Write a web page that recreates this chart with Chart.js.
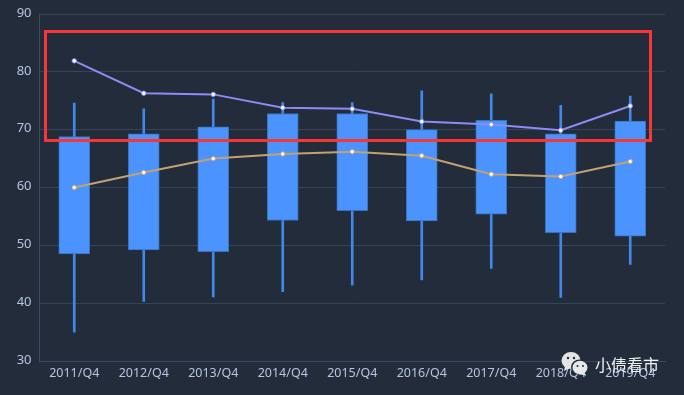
<!DOCTYPE html>
<html>
<head>
<meta charset="utf-8">
<style>
html,body{margin:0;padding:0;background:#222c3a;overflow:hidden}
#wrap{position:relative;width:684px;height:395px;background:#222c3a}
#redbox{position:absolute;left:44px;top:30px;width:602px;height:106px;border:3px solid #f93636;pointer-events:none}
#mark{position:absolute;left:561px;top:351px;width:32px;height:26px}
#wm{position:absolute;left:595px;top:353px;color:#f2f2f2;font:16px "Noto Sans CJK SC";line-height:22px;white-space:nowrap}
</style>
<script src="https://cdn.jsdelivr.net/npm/chart.js@4"></script>
</head>
<body>
<div id="wrap">
<canvas id="c" width="684" height="395" style="display:block"></canvas>
<div id="redbox"></div>
<svg id="mark" viewBox="0 0 32 26">
<ellipse cx="10" cy="9.5" rx="9.5" ry="8.5" fill="#e4e4e4"/>
<path d="M4 15 L3 20 L9 17Z" fill="#e4e4e4"/>
<ellipse cx="18.500" cy="16" rx="8.500" ry="7.500" fill="#222c3a"/>
<ellipse cx="19" cy="16.500" rx="7.500" ry="6.800" fill="#e8e8e8"/>
<path d="M23 21 L25 25 L20 22.500Z" fill="#e8e8e8"/>
<circle cx="7" cy="7" r="1.200" fill="#222c3a"/><circle cx="13" cy="7" r="1.200" fill="#222c3a"/>
<circle cx="16.500" cy="15" r="1" fill="#222c3a"/><circle cx="22" cy="15" r="1" fill="#222c3a"/>
</svg>
<div id="wm">小债看市</div>
</div>
<script>
const categories = ["2011/Q4","2012/Q4","2013/Q4","2014/Q4","2015/Q4","2016/Q4","2017/Q4","2018/Q4","2019/Q4"];
const whiskerLow = [35, 40.3, 41.1, 42, 43.1, 44, 46, 41, 46.7];
const whiskerHigh = [74.6, 73.6, 75.3, 74.7, 74.7, 76.7, 76.2, 74.2, 75.8];
const boxLow = [48.5, 49.2, 48.9, 54.3, 56, 54.2, 55.4, 52.2, 51.6];
const boxHigh = [68.8, 69.3, 70.5, 72.8, 72.8, 70, 71.6, 69.3, 71.5];
const purpleLine = [81.9, 76.3, 76.1, 73.8, 73.6, 71.4, 70.9, 69.9, 74.1];
const tanLine = [60, 62.6, 65, 65.8, 66.2, 65.5, 62.3, 61.9, 64.5];

const lineStyle = c => ({type:'line', borderColor:c, borderWidth:2, tension:0,
  pointRadius:2.2, pointBackgroundColor:'#ffffff', pointBorderColor:c, pointBorderWidth:1, order:1});

new Chart(document.getElementById('c'), {
  data: {
    labels: categories,
    datasets: [
      Object.assign({data:purpleLine}, lineStyle('#8b8cf6')),
      Object.assign({data:tanLine}, lineStyle('#c2a172')),
      {type:'bar', data:categories.map((_,i)=>[boxLow[i],boxHigh[i]]), backgroundColor:'#4b93ff',
       borderColor:'#3a72b8', borderWidth:1, borderSkipped:false, barThickness:31, grouped:false, order:2},
      {type:'bar', data:categories.map((_,i)=>[whiskerLow[i],whiskerHigh[i]]), backgroundColor:'#4287ea',
       barThickness:2, grouped:false, order:3}
    ]
  },
  options: {
    responsive:false, animation:false,
    layout:{padding:{top:14,right:19,bottom:9,left:0}},
    plugins:{legend:{display:false},tooltip:{enabled:false},title:{display:false}},
    scales:{
      x:{grid:{display:false,drawTicks:false},
         border:{color:'#3a4a62',width:1},
         ticks:{color:'#b5c5e3',font:{family:'"Noto Sans"',size:12.5},maxRotation:0,autoSkip:false,padding:5}},
      y:{min:30,max:90,
         afterFit(s){s.width=39.5;s.paddingTop=0;},
         grid:{color:'#36445a',lineWidth:1,drawTicks:false},
         border:{color:'#3a4a62',width:1},
         ticks:{stepSize:10,color:'#b5c5e3',font:{family:'"Noto Sans"',size:13},padding:8,labelOffset:-1}}
    }
  }
});
</script>
</body>
</html>
